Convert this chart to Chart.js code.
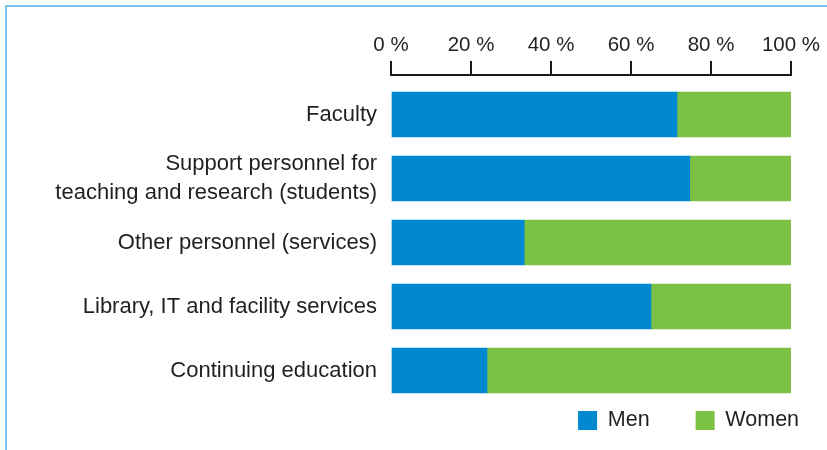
<!DOCTYPE html>
<html>
<head>
<meta charset="utf-8">
<script src="https://cdn.jsdelivr.net/npm/chart.js@4/dist/chart.umd.min.js"></script>
<style>
  html, body { margin: 0; padding: 0; background: #ffffff; overflow: hidden; width: 827px; height: 450px; }
  #frame { position: absolute; left: 5px; top: 5px; width: 1000px; height: 1000px;
           border-left: 2px solid #7cc3ea; border-top: 2px solid #7cc3ea; }
  #c { position: absolute; left: 0; top: 0; }
</style>
</head>
<body>
<div id="frame"></div>
<canvas id="c" width="845" height="450"></canvas>
<script>
// ---- data ----
const categories = [
  ['Faculty'],
  ['Support personnel for', 'teaching and research (students)'],
  ['Other personnel (services)'],
  ['Library, IT and facility services'],
  ['Continuing education']
];
const men   = [71.5, 74.7, 33.3, 65.0, 24.0];
const women = [28.5, 25.3, 66.7, 35.0, 76.0];
const xTickValues = [0, 20, 40, 60, 80, 100];
const seriesNames = ['Men', 'Women'];

// ---- styles ----
const FONT = '"Liberation Sans", Arial, Helvetica, sans-serif';
const TEXT = '#231f20';
const BLUE = '#0089d1';
const GREEN = '#7bc143';
const AXIS = '#1a1a1a';

const toPoints = arr => arr.map((v, i) => ({ x: v, y: i }));

const legendPad = 8.1;
const spacerItem = () => ({ text: '', fillStyle: 'rgba(0,0,0,0)', strokeStyle: 'rgba(0,0,0,0)',
                            lineWidth: 0, hidden: false, datasetIndex: -1 });

new Chart(document.getElementById('c'), {
  type: 'bar',
  data: {
    datasets: [
      { label: seriesNames[0], data: toPoints(men), backgroundColor: BLUE, borderWidth: 0, barThickness: 45, yAxisID: 'y', xAxisID: 'x' },
      { label: seriesNames[1], data: toPoints(women), backgroundColor: GREEN, borderWidth: 0, barThickness: 45, yAxisID: 'y', xAxisID: 'x' }
    ]
  },
  options: {
    indexAxis: 'y',
    responsive: false,
    animation: false,
    layout: { padding: { top: 0, left: 0, right: 0, bottom: 8.8 } },
    scales: {
      x: {
        type: 'linear',
        position: 'top',
        min: 0, max: 100,
        stacked: true,
        offset: false,
        afterBuildTicks: s => { s.ticks = xTickValues.map(v => ({ value: v })); },
        afterFit: s => { s.height = 75; },
        ticks: {
          callback: v => v + ' %',
          color: TEXT,
          font: { family: FONT, size: 20.5 },
          padding: 3,
          maxRotation: 0,
          autoSkip: false
        },
        grid: { drawOnChartArea: false, drawTicks: true, tickLength: 14, color: AXIS, lineWidth: 2, offset: false },
        border: { display: true, color: AXIS, width: 2 }
      },
      y: {
        type: 'linear',
        position: 'left',
        reverse: true,
        offset: false,
        min: -0.617,
        max: 4.486,
        stacked: true,
        afterBuildTicks: s => { s.ticks = categories.map((_, i) => ({ value: i })); },
        afterFit: s => { s.width = 391; },
        ticks: {
          callback: v => categories[v],
          color: TEXT,
          font: { family: FONT, size: 22, lineHeight: 1.35 },
          padding: 14,
          autoSkip: false
        },
        grid: { display: false, drawTicks: false, offset: false },
        border: { display: false }
      },
      rightPad: {
        axis: 'y',
        type: 'linear',
        position: 'right',
        display: true,
        afterFit: s => { s.width = 54; },
        ticks: { display: false },
        grid: { display: false, drawTicks: false },
        border: { display: false }
      }
    },
    plugins: {
      tooltip: { enabled: false },
      legend: {
        position: 'bottom',
        align: 'end',
        labels: {
          boxWidth: 19,
          boxHeight: 19,
          padding: legendPad,
          color: TEXT,
          font: { family: FONT, size: 21.5 },
          generateLabels: chart => {
            const items = Chart.defaults.plugins.legend.labels.generateLabels(chart);
            return [items[0], spacerItem(), items[1], spacerItem()];
          }
        }
      }
    }
  }
});
</script>
</body>
</html>
